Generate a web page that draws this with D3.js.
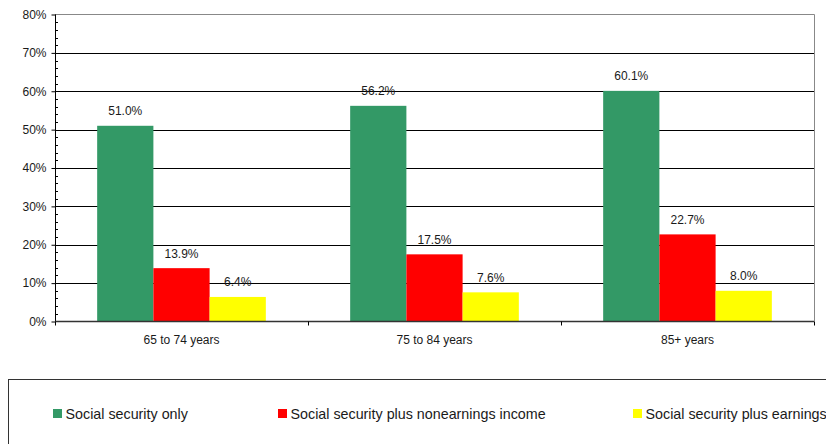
<!DOCTYPE html>
<html>
<head>
<meta charset="utf-8">
<script src="https://cdn.jsdelivr.net/npm/d3@7"></script>
<style>
  html, body { margin: 0; padding: 0; background: #fff; }
  svg { display: block; font-family: "Liberation Sans", Arial, sans-serif; }
</style>
</head>
<body>
<svg id="chart" width="826" height="444"></svg>
<script>
const categories = ["65 to 74 years", "75 to 84 years", "85+ years"];
const seriesNames = ["Social security only", "Social security plus nonearnings income", "Social security plus earnings"];
const seriesColors = ["#339966", "#FF0000", "#FFFF00"];
const ssOnly = [51.0, 56.2, 60.1];
const ssNonearnings = [13.9, 17.5, 22.7];
const ssEarnings = [6.4, 7.6, 8.0];
const yTicks = [0, 10, 20, 30, 40, 50, 60, 70, 80];
const yMinorTicks = d3.range(0, 80, 2).filter(v => v % 10 !== 0);

const seriesValues = [ssOnly, ssNonearnings, ssEarnings];

const svg = d3.select("#chart");
const plot = { left: 55, right: 814, top: 14.5, bottom: 321.5 };

const x0 = d3.scaleBand().domain(categories).range([plot.left, plot.right]).paddingInner(0).paddingOuter(0);
const y = d3.scaleLinear().domain([0, 80]).range([plot.bottom, plot.top]);
const barW = x0.bandwidth() / 4.5;
const x1 = d3.scaleBand().domain(d3.range(seriesNames.length)).range([0, barW * 3]);

// gridlines
svg.append("g").selectAll("line").data(yTicks.filter(v => v > 0 && v < 80)).join("line")
  .attr("x1", plot.left).attr("x2", plot.right)
  .attr("y1", d => Math.round(y(d)) + 0.5).attr("y2", d => Math.round(y(d)) + 0.5)
  .attr("stroke", "#000").attr("stroke-width", 1);

// plot border top & right
svg.append("path")
  .attr("d", `M${plot.left},${plot.top}H${plot.right + 0.5}V${plot.bottom}`)
  .attr("fill", "none").attr("stroke", "#888").attr("stroke-width", 1);

// bars
const groups = svg.append("g").selectAll("g").data(categories).join("g")
  .attr("transform", d => `translate(${x0(d) + x0.bandwidth() / 2 - 1.5 * barW},0)`);

groups.each(function(cat, ci) {
  const g = d3.select(this);
  const data = seriesValues.map((vals, si) => ({ si, v: vals[ci] }));
  g.selectAll("rect").data(data).join("rect")
    .attr("x", d => x1(d.si))
    .attr("width", x1.bandwidth())
    .attr("y", d => y(d.v))
    .attr("height", d => y(0) - y(d.v))
    .attr("fill", d => seriesColors[d.si]);
  g.selectAll("text").data(data).join("text")
    .attr("x", d => x1(d.si) + x1.bandwidth() / 2)
    .attr("y", d => y(d.v) - 10.5)
    .attr("text-anchor", "middle")
    .attr("font-size", "12px")
    .attr("fill", "#1a1a1a")
    .text(d => d.v.toFixed(1) + "%");
});

// y axis
const yAxis = svg.append("g").attr("transform", `translate(${plot.left + 0.5},0)`)
  .call(d3.axisLeft(y).tickValues(yTicks).tickSize(4).tickPadding(5).tickFormat(d => d + "%"));
yAxis.select(".domain").attr("stroke", "#000").attr("d", `M0,${plot.top}V${plot.bottom}`);
yAxis.selectAll(".tick line").attr("stroke", "#000");
yAxis.selectAll(".tick text").attr("font-size", "12px").attr("fill", "#1a1a1a").attr("font-family", "Liberation Sans, Arial, sans-serif");
yAxis.append("g").selectAll("line").data(yMinorTicks).join("line")
  .attr("x1", 0).attr("x2", 2.5)
  .attr("y1", d => Math.round(y(d)) + 0.5).attr("y2", d => Math.round(y(d)) + 0.5)
  .attr("stroke", "#000");

// x axis
const xAxis = svg.append("g").attr("transform", `translate(0,${plot.bottom})`)
  .call(d3.axisBottom(x0).tickSize(0).tickPadding(14));
xAxis.select(".domain").attr("stroke", "#333").attr("stroke-width", 1.5).attr("d", `M${plot.left},0H${plot.right}`);
xAxis.selectAll(".tick text").attr("font-size", "12px").attr("fill", "#1a1a1a").attr("font-family", "Liberation Sans, Arial, sans-serif");
const boundaries = categories.map(c => x0(c)).concat([x0(categories[categories.length - 1]) + x0.bandwidth()]);
xAxis.append("g").selectAll("line").data(boundaries).join("line")
  .attr("x1", d => Math.round(d) + 0.5).attr("x2", d => Math.round(d) + 0.5)
  .attr("y1", 0).attr("y2", 4).attr("stroke", "#000");

// legend
const legend = svg.append("g");
legend.append("rect").attr("x", 8.5).attr("y", 379.5).attr("width", 840).attr("height", 80)
  .attr("fill", "#fff").attr("stroke", "#333").attr("stroke-width", 1);
const legendX = [53, 278, 633];
const items = legend.selectAll("g.item").data(seriesNames).join("g").attr("class", "item")
  .attr("transform", (d, i) => `translate(${legendX[i]},409)`);
items.append("rect").attr("width", 9).attr("height", 9).attr("fill", (d, i) => seriesColors[i]);
items.append("text").attr("x", 12.5).attr("y", 9.5).attr("font-size", "14.3px").attr("fill", "#1a1a1a").text(d => d);
</script>
</body>
</html>
